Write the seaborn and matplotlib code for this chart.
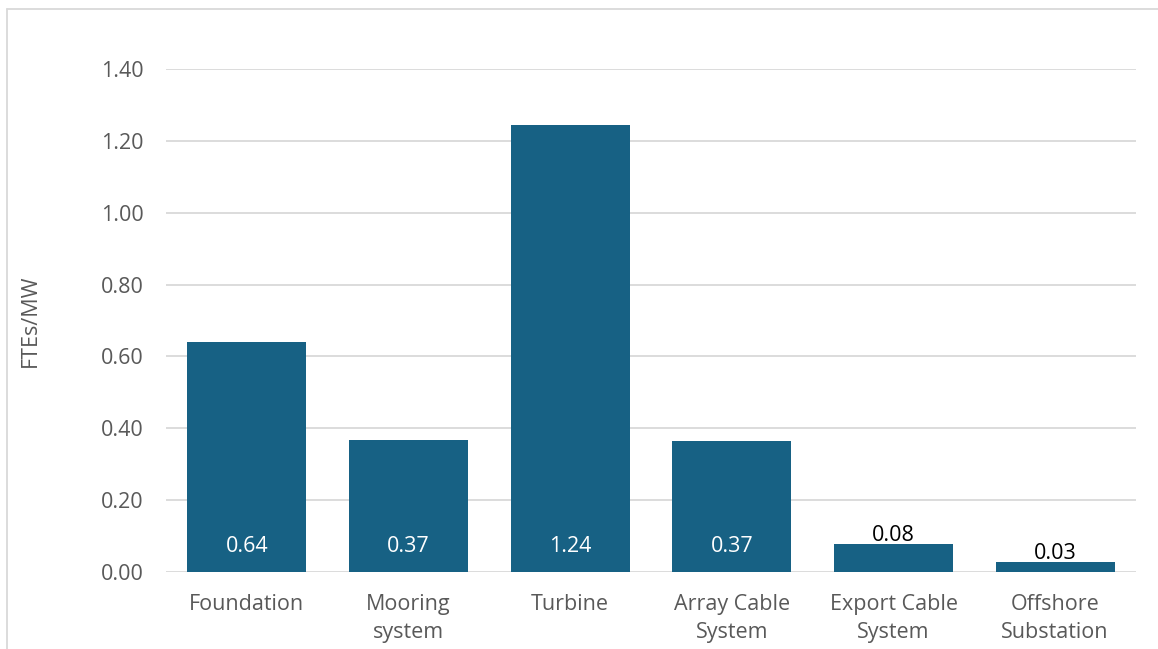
import matplotlib
matplotlib.use("Agg")
import matplotlib.pyplot as plt
import seaborn as sns
import pandas as pd
from matplotlib.lines import Line2D

categories = ["Foundation", "Mooring\nsystem", "Turbine", "Array Cable\nSystem",
              "Export Cable\nSystem", "Offshore\nSubstation"]
values = [0.64, 0.367, 1.245, 0.365, 0.078, 0.028]
labels = ["0.64", "0.37", "1.24", "0.37", "0.08", "0.03"]
yticks = [0.0, 0.2, 0.4, 0.6, 0.8, 1.0, 1.2, 1.4]

sns.set_style("white")
plt.rcParams["font.family"] = ["Open Sans", "DejaVu Sans"]

df = pd.DataFrame({"cat": categories, "val": values})

FS = 15.5
fig = plt.figure(figsize=(11.58, 6.49), dpi=100)
ax = fig.add_axes([166/1158, 1-572/649, (1136-166)/1158, (572-69)/649])
bar_color = "#176184"
sns.barplot(data=df, x="cat", y="val", color=bar_color, width=0.736,
            saturation=1, ax=ax, zorder=3)
for p in ax.patches:
    p.set_edgecolor("none")

ax.set_xlim(-0.5, 5.5)
ax.set_ylim(0, 1.4)
ax.set_yticks(yticks)
ax.set_yticklabels([f"{t:.2f}" for t in yticks])
ax.yaxis.grid(True, color="#d9d9d9", linewidth=1.3, zorder=0)
ax.set_axisbelow(True)
for s in ax.spines.values():
    s.set_visible(False)
ax.tick_params(axis="y", length=0, pad=16, labelsize=FS, labelcolor="#595959")
ax.tick_params(axis="x", length=0, pad=16, labelsize=FS, labelcolor="#595959")
for t in ax.get_xticklabels():
    t.set_linespacing(1.43)
ax.set_xlabel("")
ax.set_ylabel("FTEs/MW", fontsize=FS, color="#595959")
ax.yaxis.set_label_coords(-0.129, 0.5)

for i, (v, lab) in enumerate(zip(values, labels)):
    if v > 0.15:
        ax.text(i, 0.07, lab, ha="center", va="center", color="white", fontsize=FS, zorder=4)
    else:
        ax.text(i, v - 0.006, lab, ha="center", va="bottom", color="black", fontsize=FS, zorder=4)

# outer frame (chart area border)
fx0 = 7.5/1158
fy0 = 1 - 8.5/649
fig.add_artist(Line2D([fx0, fx0], [0, fy0], transform=fig.transFigure, color="#d9d9d9", lw=1.3))
fig.add_artist(Line2D([fx0, 1], [fy0, fy0], transform=fig.transFigure, color="#d9d9d9", lw=1.3))

fig.savefig("out.png", dpi=100)
